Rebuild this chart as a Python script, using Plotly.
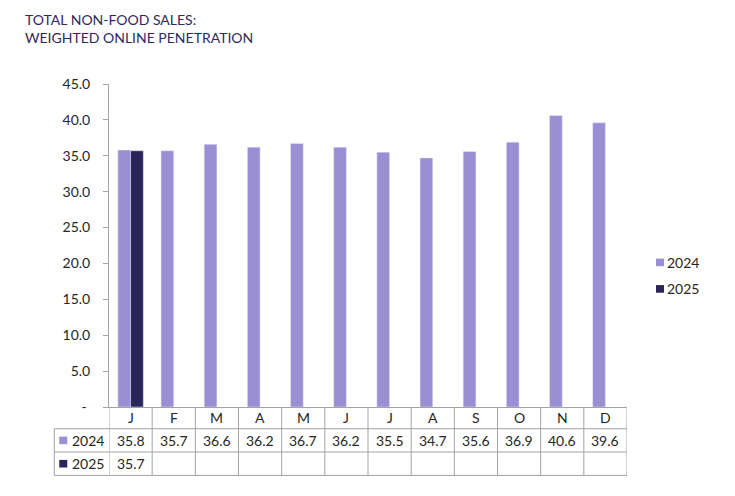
import plotly.graph_objects as go

# ---- data ----
months = ["Jan", "Feb", "Mar", "Apr", "May", "Jun", "Jul", "Aug", "Sep", "Oct", "Nov", "Dec"]
month_labels = ["J", "F", "M", "A", "M", "J", "J", "A", "S", "O", "N", "D"]
series_names = ["2024", "2025"]
values_2024 = [35.8, 35.7, 36.6, 36.2, 36.7, 36.2, 35.5, 34.7, 35.6, 36.9, 40.6, 39.6]
values_2025 = [35.7, None, None, None, None, None, None, None, None, None, None, None]
y_tick_vals = [0, 5, 10, 15, 20, 25, 30, 35, 40, 45]
y_tick_text = ["-\u00a0", "5.0", "10.0", "15.0", "20.0", "25.0", "30.0", "35.0", "40.0", "45.0"]
title_lines = ["TOTAL NON-FOOD SALES:", "WEIGHTED ONLINE PENETRATION"]

# ---- style ----
W, H = 735, 496
OFF = 8  # page body margin
PL, PR, PT, PB = 109, 626.7, 84.3, 407.3  # plot area in window pixels
ML, MR, MT, MB = PL - OFF, W - PR + OFF, PT - OFF, H - PB + OFF
PW, PH = PR - PL, PB - PT
C24 = "#9B8FD4"
C25 = "#2A2459"
GRID = "#A3A3A3"
TXT = "#262626"
FONT = "Lato"


def px_x(px):
    return (px - PL) / PW


def px_y(py):
    return (PB - py) / PH


fig = go.Figure()
fig.add_trace(go.Bar(x=months, y=values_2024, name=series_names[0], marker_color=C24, showlegend=False))
fig.add_trace(go.Bar(x=months, y=values_2025, name=series_names[1], marker_color=C25, showlegend=False))

shapes = []
annotations = []

# table geometry (window pixels)
row_lines = [429, 452.3, 475.7]
table_left = 54.3
header_c, r1_c, r2_c = 418, 440.7, 464

for ry in row_lines:
    shapes.append(dict(type="line", xref="paper", yref="paper", x0=px_x(table_left), x1=1,
                       y0=px_y(ry), y1=px_y(ry), line=dict(color=GRID, width=1)))
shapes.append(dict(type="line", xref="paper", yref="paper", x0=px_x(table_left), x1=px_x(table_left),
                   y0=px_y(row_lines[0]), y1=px_y(row_lines[-1]), line=dict(color=GRID, width=1)))
for k in range(len(months) + 1):
    shapes.append(dict(type="line", xref="x", yref="paper", x0=k - 0.5, x1=k - 0.5,
                       y0=0, y1=px_y(row_lines[-1]), line=dict(color=GRID, width=1)))

for i, (m, lab) in enumerate(zip(months, month_labels)):
    annotations.append(dict(x=i, y=px_y(header_c), xref="x", yref="paper", text=lab, showarrow=False,
                            xanchor="center", yanchor="middle", font=dict(family=FONT, size=14, color=TXT)))
    for vals, cy in ((values_2024, r1_c), (values_2025, r2_c)):
        v = vals[i]
        if v is not None:
            annotations.append(dict(x=i, y=px_y(cy), xref="x", yref="paper", text=f"{v:.1f}", showarrow=False,
                                    xanchor="center", yanchor="middle",
                                    font=dict(family=FONT, size=14, color=TXT)))

for name, col, cy in ((series_names[0], C24, r1_c), (series_names[1], C25, r2_c)):
    shapes.append(dict(type="rect", xref="paper", yref="paper", x0=px_x(59.3), x1=px_x(67.3),
                       y0=px_y(cy + 3.8), y1=px_y(cy - 3.8), fillcolor=col, line=dict(width=0)))
    annotations.append(dict(x=px_x(70), y=px_y(cy), xref="paper", yref="paper", text=name, showarrow=False,
                            xanchor="left", yanchor="middle", font=dict(family=FONT, size=14, color=TXT)))

for name, col, cy in ((series_names[0], C24, 262.7), (series_names[1], C25, 289.2)):
    shapes.append(dict(type="rect", xref="paper", yref="paper", x0=px_x(655.7), x1=px_x(663.7),
                       y0=px_y(cy + 3.8), y1=px_y(cy - 3.8), fillcolor=col, line=dict(width=0)))
    annotations.append(dict(x=px_x(665), y=px_y(cy), xref="paper", yref="paper", text=name, showarrow=False,
                            xanchor="left", yanchor="middle", font=dict(family=FONT, size=14, color=TXT)))

for line, cy in zip(title_lines, (20, 38)):
    annotations.append(dict(x=px_x(23), y=px_y(cy), xref="paper", yref="paper", text=line, showarrow=False,
                            xanchor="left", yanchor="middle", font=dict(family=FONT, size=14, color="#2E2A5E")))

fig.update_layout(
    width=W, height=H,
    margin=dict(l=ML, r=MR, t=MT, b=MB, autoexpand=False),
    paper_bgcolor="white", plot_bgcolor="white",
    barmode="group", bargap=0.41, bargroupgap=0,
    showlegend=False,
    shapes=shapes, annotations=annotations,
    font=dict(family=FONT, size=14, color=TXT),
)
fig.update_xaxes(type="category", showticklabels=False, showline=True, linecolor=GRID, linewidth=1,
                 ticks="", showgrid=False, zeroline=False, range=[-0.5, 11.5])
fig.update_yaxes(range=[0, 45], tickvals=y_tick_vals, ticktext=y_tick_text, showline=True, linecolor=GRID,
                 linewidth=1, ticks="outside", ticklen=5, tickcolor=GRID, showgrid=False, zeroline=False,
                 ticklabelstandoff=10, tickfont=dict(family=FONT, size=14, color=TXT))

fig.write_html("out.html")
